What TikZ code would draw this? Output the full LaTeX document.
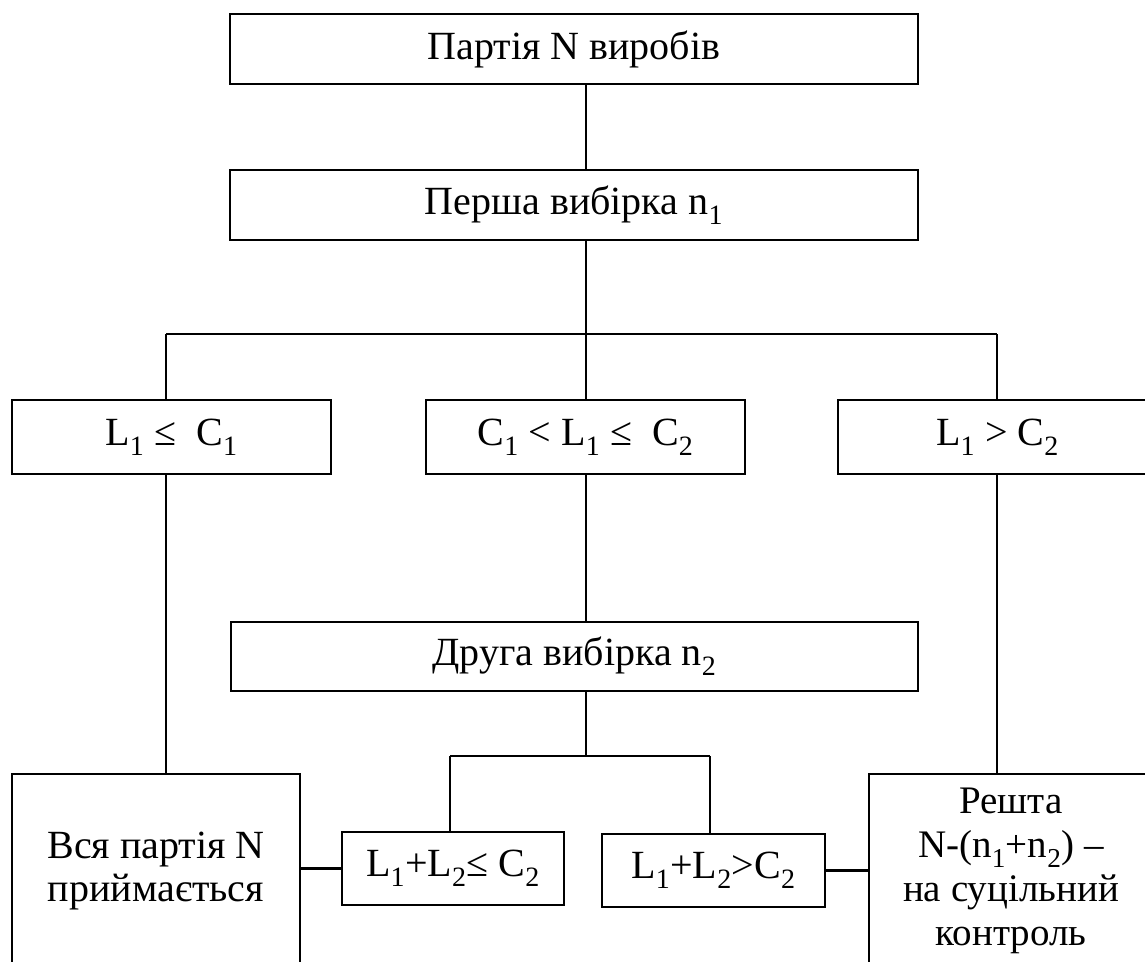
\documentclass[tikz,border=0pt]{standalone}
\usepackage{fontspec}
\setmainfont{Liberation Serif}
\begin{document}
\begin{tikzpicture}[x=1pt,y=-1pt,
  box/.style={draw,line width=2.5pt,rectangle,inner sep=0pt,align=center,
    font=\fontsize{40}{42.5}\selectfont},
  conn/.style={line width=1.4pt},
  bus/.style={line width=2.4pt}]
\useasboundingbox (0,0) rectangle (1145,961);
\fill[white] (0,0) rectangle (1145,961);
\node[box,minimum width=688,minimum height=70] (top) at (574,49) {Партія N виробів};
\node[box,minimum width=688,minimum height=70] (first) at (574,205) {Перша вибірка n\textsubscript{1}};
\node[box,minimum width=319,minimum height=74] (a) at (171.5,437) {L\textsubscript{1} ≤ \ C\textsubscript{1}};
\node[box,minimum width=319,minimum height=74] (b) at (585.5,437) {C\textsubscript{1} < L\textsubscript{1} ≤ \ C\textsubscript{2}};
\node[box,minimum width=319,minimum height=74] (c) at (997.5,437) {L\textsubscript{1} > C\textsubscript{2}};
\node[box,minimum width=687,minimum height=69] (second) at (574.5,656.5) {Друга вибірка n\textsubscript{2}};
\node[box,minimum width=222,minimum height=73] (s1) at (453,868.5) {L\textsubscript{1}+L\textsubscript{2}≤ C\textsubscript{2}};
\node[box,minimum width=223,minimum height=73] (s2) at (713.5,870.5) {L\textsubscript{1}+L\textsubscript{2}>C\textsubscript{2}};
\node[box,minimum width=288,minimum height=194] (bigL) at (156,871) {Вся партія N\\приймається};
\node[box,minimum width=284,minimum height=194,font=\fontsize{39}{44}\selectfont] (bigR) at (1011,871) {Решта\\N-(n\textsubscript{1}+n\textsubscript{2}) –\\на суцільний\\контроль};
\coordinate (busL) at (166,334);
\coordinate (busR) at (997,334);
\coordinate (bus2L) at (450,756);
\coordinate (bus2R) at (710,756);
\coordinate (mid) at (586,0);
\draw[conn] (mid |- top.south) -- (mid |- first.north);
\draw[conn] (mid |- first.south) -- (mid |- b.north);
\draw[bus] (busL) -- (busR);
\draw[conn] (busL) -- (busL |- a.north);
\draw[conn] (busR) -- (busR |- c.north);
\draw[conn] (busL |- a.south) -- (busL |- bigL.north);
\draw[conn] (mid |- b.south) -- (mid |- second.north);
\draw[conn] (busR |- c.south) -- (busR |- bigR.north);
\draw[conn] (mid |- second.south) -- (mid |- bus2L);
\draw[bus] (bus2L) -- (bus2R);
\draw[conn] (bus2L) -- (bus2L |- s1.north);
\draw[conn] (bus2R) -- (bus2R |- s2.north);
\draw[bus] (s1.west) -- (s1.west -| bigL.east);
\draw[bus] (s2.east) -- (s2.east -| bigR.west);
\end{tikzpicture}
\end{document}
